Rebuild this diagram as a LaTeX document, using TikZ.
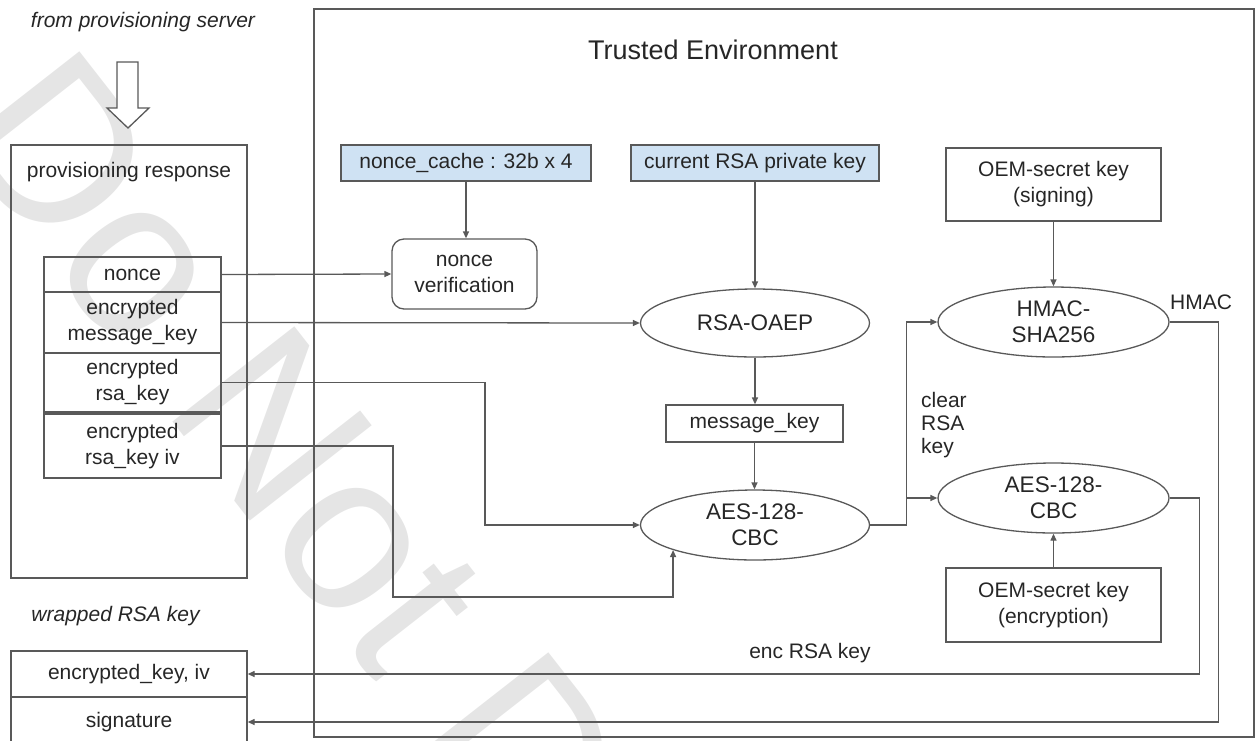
\documentclass[tikz,border=0pt]{standalone}
\usepackage{fontspec}
\setmainfont{Liberation Sans}
\usetikzlibrary{shapes.geometric,arrows.meta}
\definecolor{ln}{HTML}{595959}
\definecolor{blu}{HTML}{CFE2F3}
\definecolor{wm}{HTML}{E5E5E5}
\definecolor{tx}{HTML}{262626}
\begin{document}
\begin{tikzpicture}[x=1pt,y=-1pt,
  lbl/.style={font=\fontsize{21}{26}\selectfont, text=tx, align=center},
  box/.style={draw=ln, line width=1.3pt, rectangle, inner sep=0pt, lbl},
  proc/.style={draw=ln, line width=1.3pt, ellipse, inner sep=0pt, font=\fontsize{22.5}{26}\selectfont, text=tx, align=center},
  arr/.style={draw=ln, line width=1.3pt, -{Triangle[length=7pt,width=6pt]}},
  it/.style={font=\fontsize{21}{26}\selectfont\itshape, text=tx}]
\useasboundingbox (0,0) rectangle (1259,740);
% watermark
\begin{scope}
\clip (0,0) rectangle (1259,740);
\node[rotate=-52, anchor=base west, inner sep=0pt, text=wm, font=\fontsize{225}{225}\selectfont] (wmark) at (-54,132) {Do Not Distribute};
\end{scope}
% left side
\node[it] (from) at (143,22) {from provisioning server};
\draw[draw=ln, line width=1.3pt, fill=white] (117,62) -- (138,62) -- (138,108) -- (149,108) -- (128,128) -- (107,108) -- (117,108) -- cycle;
\node[box, minimum width=236pt, minimum height=433pt] (prov) at (129,361.5) {};
\node[lbl] (provlbl) at (129,172) {provisioning response};
\node[box, minimum width=177pt, minimum height=35pt] (nonce) at (132.5,274.5) {nonce};
\node[box, minimum width=177pt, minimum height=61pt] (emk) at (132.5,322.5) {encrypted\\message\_key};
\node[box, minimum width=177pt, minimum height=59pt] (erk) at (132.5,382.5) {encrypted\\rsa\_key};
\node[box, minimum width=177pt, minimum height=64pt] (eiv) at (132.5,446) {encrypted\\rsa\_key iv};
\node[it] (wrapped) at (115.5,616) {wrapped RSA key};
\node[box, minimum width=236pt, minimum height=46pt] (out1) at (129,674) {encrypted\_key, iv};
\node[box, minimum width=236pt, minimum height=50pt] (out2) at (129,722) {signature};
% trusted environment
\node[draw=ln, line width=1.8pt, rectangle, minimum width=940pt, minimum height=728pt] (trusted) at (784,373) {};
\node[font=\fontsize{27}{32}\selectfont, text=tx] (ttitle) at (713,50) {Trusted Environment};
\node[box, fill=blu, minimum width=250pt, minimum height=36pt] (ncache) at (466,163) {nonce\_cache : 32b x 4};
\node[box, fill=blu, minimum width=248pt, minimum height=36pt] (rsapriv) at (755,163) {current RSA private key};
\node[box, rounded corners=12pt, minimum width=145pt, minimum height=70pt] (nverif) at (464.5,274) {nonce\\verification};
\node[proc, minimum width=229pt, minimum height=68pt] (rsaoaep) at (755,323) {RSA-OAEP};
\node[box, minimum width=177pt, minimum height=37pt] (mkey) at (754.5,423.5) {message\_key};
\node[proc, minimum width=229pt, minimum height=70pt] (aes1) at (755,525) {AES-128-\\CBC};
\node[box, minimum width=215pt, minimum height=73pt] (osign) at (1053.5,184.5) {OEM-secret key\\(signing)};
\node[proc, minimum width=231pt, minimum height=70pt] (hmac) at (1053.5,322) {HMAC-\\SHA256};
\node[proc, minimum width=231pt, minimum height=70pt] (aes2) at (1053.5,498) {AES-128-\\CBC};
\node[box, minimum width=215pt, minimum height=74pt] (oenc) at (1053.5,605) {OEM-secret key\\(encryption)};
% labels
\node[font=\fontsize{21}{23}\selectfont, text=tx, align=left, anchor=west, inner sep=0pt] (clear) at (921,425) {clear\\RSA\\key};
\node[lbl] (hmaclbl) at (1201,302) {HMAC};
\node[lbl] (enclbl) at (810,653) {enc RSA key};
% connectors
\coordinate (ivin) at (aes1.197);
\draw[arr] (nonce.east) -- (nverif.west);
\draw[arr] (emk.east) -- (rsaoaep.west);
\draw[arr] (erk.east) -| (485,525) -- (aes1.west);
\draw[arr] (eiv.east) -| (393,597) -| (ivin);
\draw[arr] (ncache.south) -- (ncache.south |- nverif.north);
\draw[arr] (rsapriv.south) -- (rsaoaep.north);
\draw[arr] (rsaoaep.south) -- (rsaoaep.south |- mkey.north);
\draw[arr] (mkey.south) -- (mkey.south |- aes1.north);
\draw[arr] (aes1.east) -- ++(36,0) |- (hmac.west);
\draw[arr] (aes1.east) -- ++(36,0) |- (aes2.west);
\draw[arr] (osign.south) -- (hmac.north);
\draw[arr] (oenc.north) -- (aes2.south);
\draw[arr] (aes2.east) -- ++(30,0) |- (out1.east);
\draw[arr] (hmac.east) -- ++(49,0) |- (out2.east);
\end{tikzpicture}
\end{document}
